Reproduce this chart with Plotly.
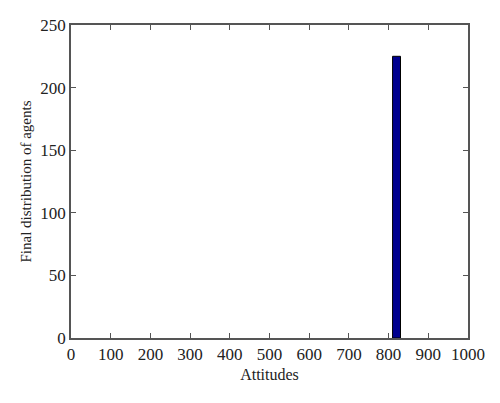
import plotly.graph_objects as go

attitude_bins = [820]
agent_counts = [225]
bin_width = 20

x_ticks = [0, 100, 200, 300, 400, 500, 600, 700, 800, 900, 1000]
y_ticks = [0, 50, 100, 150, 200, 250]

fig = go.Figure()
fig.add_trace(go.Bar(
    x=attitude_bins, y=agent_counts, width=bin_width,
    marker=dict(color="#00008F", line=dict(color="#000000", width=1)),
))

font_family = "Liberation Serif, Times New Roman, serif"
axis_common = dict(
    showgrid=False, zeroline=False, showline=True, linecolor="#555555", linewidth=1.5,
    mirror="ticks", ticks="inside", ticklen=5, tickcolor="#555555", tickwidth=1,
    tickfont=dict(family=font_family, size=17, color="#222222"),
    automargin=False,
)
fig.update_layout(
    width=492, height=395,
    margin=dict(l=63, r=32, t=17, b=65),
    paper_bgcolor="white", plot_bgcolor="white",
    showlegend=False,
    font=dict(family=font_family, color="#222222"),
    xaxis=dict(range=[0, 1000], tickvals=x_ticks,
               title=dict(text="Attitudes", font=dict(family=font_family, size=16), standoff=6),
               **axis_common),
    yaxis=dict(range=[0, 250], tickvals=y_ticks,
               title=dict(text="Final distribution of agents", font=dict(family=font_family, size=15), standoff=5),
               **axis_common),
)
fig.write_html("out.html")
